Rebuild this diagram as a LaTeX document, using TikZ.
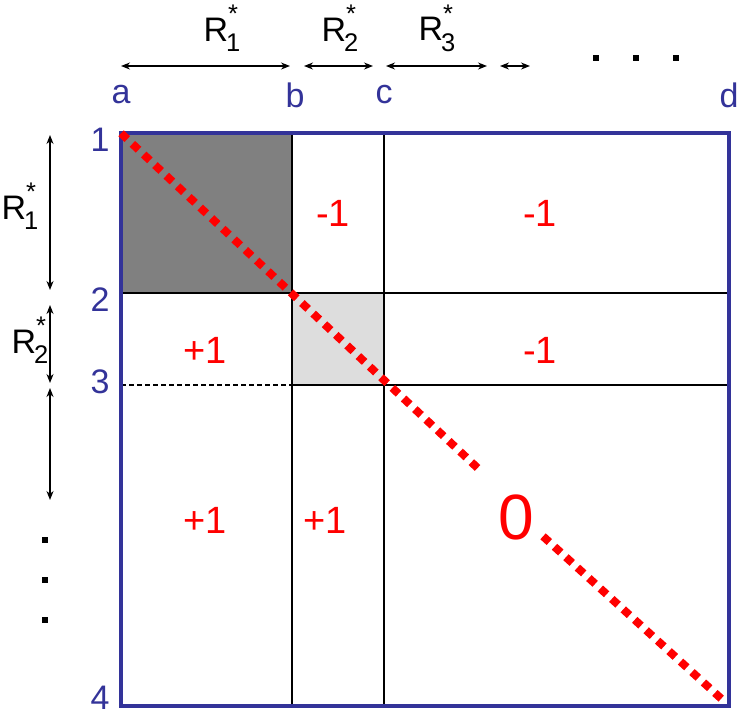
\documentclass[tikz,border=0pt]{standalone}
\usepackage{fontspec}
\setmainfont{Liberation Sans}
\usetikzlibrary{arrows.meta}
\newcommand{\Rs}[1]{R\raisebox{0.55em}{\scalebox{0.75}{*}}\kern-0.35em\raisebox{-0.3em}{\scalebox{0.75}{#1}}}
\begin{document}
\begin{tikzpicture}[x=1pt,y=-1pt,
  blue/.style={text={rgb,255:red,51;green,51;blue,153}},
  lab/.style={font=\fontsize{34}{34}\selectfont,inner sep=0pt},
  val/.style={text=red,font=\fontsize{38}{38}\selectfont},
  arr/.style={{Stealth[length=9pt,width=7pt]}-{Stealth[length=9pt,width=7pt]},line width=1.3pt},
  dots/.style={line width=6pt,dash pattern=on 6pt off 34pt}]
\useasboundingbox (0,0) rectangle (738,716);
\fill[fill={rgb,255:red,128;green,128;blue,128}] (121,133) rectangle (292,293);
\fill[fill={rgb,255:red,221;green,221;blue,221}] (292,293) rectangle (384,385);
\draw[line width=1.2pt] (292,133) -- (292,706) (384,133) -- (384,706)
  (121,293) -- (729,293) (292,385) -- (729,385);
\draw[line width=1.2pt,dash pattern=on 5pt off 3pt] (121,385) -- (292,385);
\draw[line width=4.5pt,draw={rgb,255:red,51;green,51;blue,153}] (121,133) rectangle (729,706);
\coordinate (p1) at (124,136);
\coordinate (p2) at (484,474);
\coordinate (p3) at (546,539);
\coordinate (p4) at (726,703);
\draw[red,line width=8pt,line cap=rect,dash pattern=on 0.5pt off 15pt] (p1) -- (p2) (p3) -- (p4);
\node[val] (v1) at (333,213) {-1};
\node[val] (v2) at (540,213) {-1};
\node[val] (v3) at (205,350) {+1};
\node[val] (v4) at (540,350) {-1};
\node[val] (v5) at (205,520) {+1};
\node[val] (v6) at (325,520) {+1};
\node[text=red,font=\fontsize{64}{64}\selectfont] (z) at (516,517) {0};
\node[lab,blue] (a) at (121,95) {a};
\node[lab,blue] (b) at (295,95) {b};
\node[lab,blue] (c) at (384,95) {c};
\node[lab,blue] (d) at (729,95) {d};
\node[lab,blue] (n1) at (100,140) {1};
\node[lab,blue] (n2) at (100,300) {2};
\node[lab,blue] (n3) at (100,382) {3};
\node[lab,blue] (n4) at (100,698) {4};
\coordinate (ta1) at (121,66); \coordinate (ta2) at (290,66);
\coordinate (tb1) at (304,66); \coordinate (tb2) at (373,66);
\coordinate (tc1) at (386,66); \coordinate (tc2) at (487,66);
\coordinate (td1) at (500,66); \coordinate (td2) at (530,66);
\draw[arr] (ta1) -- (ta2); \draw[arr] (tb1) -- (tb2);
\draw[arr] (tc1) -- (tc2); \draw[arr] (td1) -- (td2);
\node[lab] (r1) at (222,28) {\Rs{1}};
\node[lab] (r2) at (340,28) {\Rs{2}};
\node[lab] (r3) at (437,28) {\Rs{3}};
\coordinate (la1) at (50,135); \coordinate (la2) at (50,290);
\coordinate (lb1) at (50,305); \coordinate (lb2) at (50,383);
\coordinate (lc1) at (50,388); \coordinate (lc2) at (50,500);
\draw[arr] (la1) -- (la2); \draw[arr] (lb1) -- (lb2); \draw[arr] (lc1) -- (lc2);
\node[lab] (l1) at (20,206) {\Rs{1}};
\node[lab] (l2) at (30,340) {\Rs{2}};
\draw[dots] (593,58) -- (690,58);
\draw[dots] (45,537) -- (45,625);
\end{tikzpicture}
\end{document}
